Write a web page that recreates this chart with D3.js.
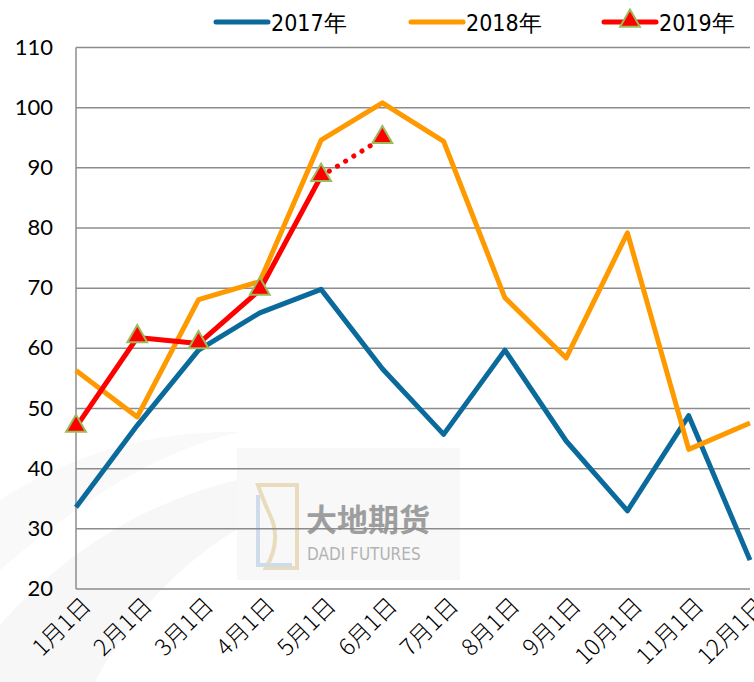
<!DOCTYPE html>
<html>
<head>
<meta charset="utf-8" />
<title>2017-2019</title>
<script src="https://d3js.org/d3.v7.min.js"></script>
<style>
    body { margin: 0; background: #fff; }
    svg { display: block; }
</style>
</head>
<body>
<svg id="chart" width="754" height="682"></svg>

<script>
// categories
var months = ["1月1日", "2月1日", "3月1日", "4月1日", "5月1日", "6月1日",
              "7月1日", "8月1日", "9月1日", "10月1日", "11月1日", "12月1日"];

// series values
var s2017 = [33.6, 47.2, 59.7, 65.9, 69.8, 56.6, 45.7, 59.7, 44.6, 33.0, 48.8, 24.8];
var s2018 = [56.3, 48.6, 68.1, 71.1, 94.6, 100.8, 94.4, 68.4, 58.4, 79.2, 43.2, 47.6];
var s2019 = [46.9, 61.8, 60.8, 69.7, 88.6, 94.9];

// y tick labels
var yTicks = [20, 30, 40, 50, 60, 70, 80, 90, 100, 110];

var legendNames = ["2017年", "2018年", "2019年"];

var svg = d3.select("#chart");

var plotLeft = 76, plotRight = 750, plotTop = 47.5, plotBottom = 589;

var x = d3.scalePoint().domain(months).range([plotLeft, plotRight]);
var y = d3.scaleLinear().domain([20, 110]).range([plotBottom, plotTop]);

// faint background swooshes (watermark)
svg.append("path")
    .attr("d", "M0,625 C110,500 260,450 430,470 C300,480 170,540 95,682 L0,682 Z")
    .attr("fill", "#f7f7f7");
svg.append("path")
    .attr("d", "M0,500 C70,455 150,430 240,432 C160,450 80,500 0,570 Z")
    .attr("fill", "#f9f9f9");

// watermark logo
var wm = svg.append("g");
wm.append("rect").attr("x", 237).attr("y", 448).attr("width", 223).attr("height", 132)
    .attr("fill", "#f8f8f8");
wm.append("path")
    .attr("d", "M258,485 L297,485 L297,568 L266,568 Q282,540 270,515 Q263,500 258,485 Z")
    .attr("fill", "none").attr("stroke", "#e8dcbc").attr("stroke-width", 4);
wm.append("path")
    .attr("d", "M258,495 L258,565 L292,565")
    .attr("fill", "none").attr("stroke", "#cddbea").attr("stroke-width", 4);
wm.append("text").attr("x", 306).attr("y", 531)
    .attr("font-family", "Noto Sans CJK SC").attr("font-size", 31).attr("font-weight", "bold")
    .attr("fill", "#9e9e9e")
    .text("大地期货");
wm.append("text").attr("x", 307).attr("y", 560)
    .attr("font-family", "Liberation Sans Narrow, DejaVu Sans Condensed, sans-serif").attr("font-size", 17)
    .attr("fill", "#b3b3b3")
    .text("DADI FUTURES");

// gridlines
svg.append("g").selectAll("line")
    .data(yTicks)
    .enter().append("line")
    .attr("x1", plotLeft).attr("x2", plotRight)
    .attr("y1", function(d) { return y(d); })
    .attr("y2", function(d) { return y(d); })
    .attr("stroke", "#8c8c8c")
    .attr("stroke-width", 1.5);

// left axis line
svg.append("line")
    .attr("x1", plotLeft).attr("x2", plotLeft)
    .attr("y1", plotTop).attr("y2", plotBottom)
    .attr("stroke", "#8c8c8c").attr("stroke-width", 1.5);

// y labels
svg.append("g").selectAll("text")
    .data(yTicks)
    .enter().append("text")
    .attr("x", 53)
    .attr("y", function(d) { return y(d) + 7; })
    .attr("text-anchor", "end")
    .attr("font-family", "Lato, Open Sans, sans-serif")
    .attr("font-size", 22)
    .attr("fill", "#000")
    .text(function(d) { return d; });

// x labels, rotated
svg.append("g").selectAll("text")
    .data(months)
    .enter().append("text")
    .attr("transform", function(d) {
        return "translate(" + (x(d) + 4) + "," + 595 + ") rotate(-45)";
    })
    .attr("text-anchor", "end")
    .attr("dy", "0.75em")
    .attr("font-family", "Noto Sans CJK SC, sans-serif")
    .attr("font-weight", 300)
    .attr("font-size", 23)
    .attr("fill", "#000")
    .text(function(d) { return d; });

var line = d3.line()
    .x(function(d, i) { return x(months[i]); })
    .y(function(d) { return y(d); });

// 2017
svg.append("path")
    .datum(s2017)
    .attr("d", line)
    .attr("fill", "none")
    .attr("stroke", "#0b6a9c")
    .attr("stroke-width", 5)
    .attr("stroke-linejoin", "round");

// 2018
svg.append("path")
    .datum(s2018)
    .attr("d", line)
    .attr("fill", "none")
    .attr("stroke", "#ff9900")
    .attr("stroke-width", 5)
    .attr("stroke-linejoin", "round");

// 2019 solid part
svg.append("path")
    .datum(s2019.slice(0, 5))
    .attr("d", line)
    .attr("fill", "none")
    .attr("stroke", "#ff0000")
    .attr("stroke-width", 5)
    .attr("stroke-linejoin", "round");

// 2019 dotted last segment
svg.append("line")
    .attr("x1", x(months[4])).attr("y1", y(s2019[4]))
    .attr("x2", x(months[5])).attr("y2", y(s2019[5]))
    .attr("stroke", "#ff0000")
    .attr("stroke-width", 5)
    .attr("stroke-linecap", "round")
    .attr("stroke-dasharray", "0.1,9.5");

var tri = d3.symbol().type(d3.symbolTriangle).size(170);

svg.append("g").selectAll("path")
    .data(s2019)
    .enter().append("path")
    .attr("d", tri)
    .attr("transform", function(d, i) {
        return "translate(" + x(months[i]) + "," + (y(d) - 1) + ")";
    })
    .attr("fill", "#ff0000")
    .attr("stroke", "#9bbb59")
    .attr("stroke-width", 2);

// legend
var legendX = [216, 411, 604];
var legendColors = ["#0b6a9c", "#ff9900", "#ff0000"];
var lg = svg.append("g");
legendNames.forEach(function(name, i) {
    lg.append("line")
        .attr("x1", legendX[i]).attr("x2", legendX[i] + 52)
        .attr("y1", 22).attr("y2", 22)
        .attr("stroke", legendColors[i])
        .attr("stroke-width", 5)
        .attr("stroke-linecap", "round");
    if (i == 2) {
        lg.append("path")
            .attr("d", tri)
            .attr("transform", "translate(" + (legendX[i] + 26) + ",21)")
            .attr("fill", "#ff0000")
            .attr("stroke", "#9bbb59")
            .attr("stroke-width", 2);
    }
    lg.append("text")
        .attr("x", legendX[i] + 55)
        .attr("y", 31)
        .attr("font-family", "Liberation Sans Narrow, DejaVu Sans Condensed, sans-serif")
        .attr("font-size", 23)
        .attr("fill", "#000")
        .text(name);
});
</script>
</body>
</html>
